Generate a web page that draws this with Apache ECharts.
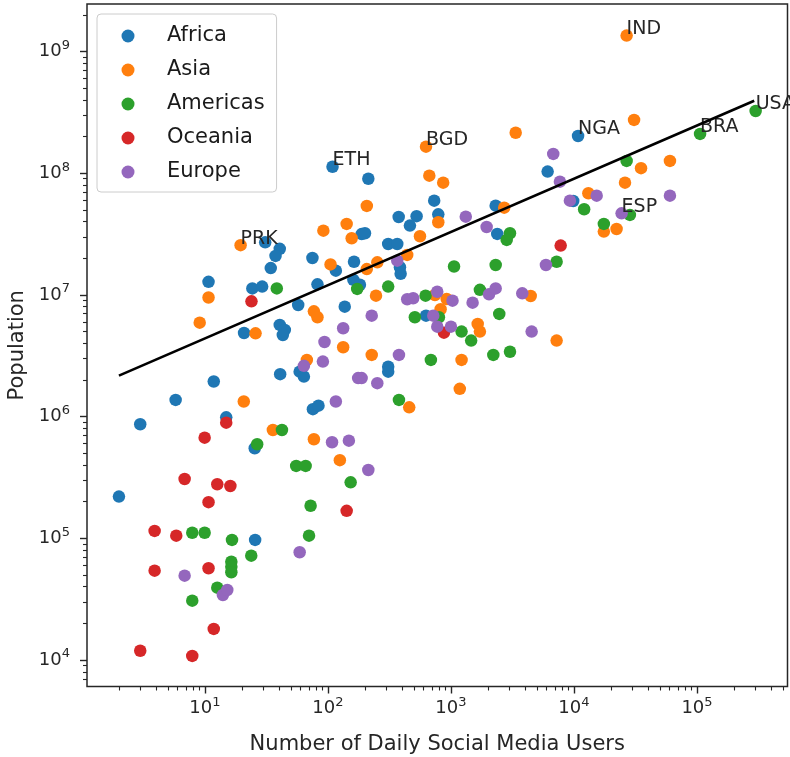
<!DOCTYPE html>
<html>
<head>
<meta charset="utf-8">
<script src="https://cdn.jsdelivr.net/npm/echarts@6/dist/echarts.min.js"></script>
<style>
  html, body { margin: 0; padding: 0; background: #fff; }
  #chart { width: 790px; height: 757px; }
</style>
</head>
<body>
<div id="chart"></div>
<script>
// [daily social media users, population, optional country code]
const africa = [
  [109, 1.13e8, 'ETH'], [213, 9.0e7], [10800, 2.02e8, 'NGA'], [6110, 1.03e8], [9860, 5.91e7],
  [731, 5.94e7], [376, 4.36e7], [526, 4.43e7], [464, 3.71e7], [789, 4.59e7],
  [2310, 5.41e7], [2380, 3.17e7], [188, 3.16e7], [200, 3.21e7], [309, 2.62e7],
  [366, 2.62e7], [30.9, 2.70e7], [40.6, 2.39e7], [37.5, 2.09e7], [74.8, 2.01e7],
  [34.3, 1.66e7], [10.7, 1.28e7], [24.3, 1.13e7], [29.2, 1.17e7], [82.2, 1.22e7],
  [57.3, 8.26e6], [116, 1.58e7], [163, 1.87e7], [385, 1.69e7], [390, 1.49e7],
  [161, 1.33e7], [182, 1.21e7], [137, 8.0e6], [40.6, 5.66e6], [44.6, 5.15e6],
  [43.0, 4.68e6], [20.8, 4.86e6], [58.9, 2.34e6], [63.8, 2.13e6], [40.9, 2.23e6],
  [11.8, 1.94e6], [5.78, 1.37e6], [75.5, 1.15e6], [83.8, 1.23e6], [2.98, 8.65e5],
  [14.9, 9.86e5], [25.4, 5.49e5], [2, 2.20e5], [25.6, 9.69e4], [627, 6.75e6],
  [309, 2.57e6], [309, 2.34e6]
];
const asia = [
  [26800, 1.35e9, 'IND'], [30800, 2.74e8], [3360, 2.15e8], [627, 1.65e8, 'BGD'], [667, 9.54e7],
  [865, 8.36e7], [207, 5.38e7], [142, 3.83e7], [789, 3.95e7], [2710, 5.21e7],
  [91.8, 3.37e7], [156, 2.92e7], [560, 3.03e7], [19.5, 2.56e7, 'PRK'], [10.7, 9.52e6],
  [9.07, 5.91e6], [25.8, 4.83e6], [76.9, 7.32e6], [82.2, 6.55e6], [105, 1.78e7],
  [207, 1.63e7], [252, 1.85e7], [441, 2.13e7], [246, 9.85e6], [67.4, 2.92e6],
  [133, 3.71e6], [227, 3.21e6], [458, 1.19e6], [20.7, 1.33e6], [35.7, 7.76e5],
  [76.9, 6.51e5], [125, 4.38e5], [741, 9.98e6], [923, 9.25e6], [824, 7.62e6],
  [1650, 5.77e6], [1720, 4.99e6], [4450, 9.79e6], [7230, 4.21e6], [1220, 2.92e6],
  [1180, 1.69e6], [35100, 1.10e8], [60300, 1.26e8], [26000, 8.36e7], [13100, 6.84e7],
  [22200, 3.48e7], [17500, 3.31e7]
];
const americas = [
  [3.00e5, 3.24e8, 'USA'], [1.06e5, 2.10e8, 'BRA'], [26800, 1.26e8], [12100, 5.05e7], [28500, 4.54e7],
  [17500, 3.83e7], [3020, 3.21e7], [2840, 2.83e7], [7230, 1.87e7], [2310, 1.76e7],
  [1060, 1.71e7], [1720, 1.10e7], [622, 9.85e6], [509, 6.55e6], [798, 6.55e6],
  [2470, 6.97e6], [1220, 4.99e6], [1460, 4.21e6], [2210, 3.21e6], [3020, 3.41e6],
  [687, 2.92e6], [378, 1.37e6], [309, 1.17e7], [173, 1.12e7], [38.4, 1.13e7],
  [42.3, 7.76e5], [26.6, 5.92e5], [55.2, 3.93e5], [65.9, 3.93e5], [72.3, 1.85e5],
  [153, 2.88e5], [70.2, 1.05e5], [7.89, 1.11e5], [9.95, 1.11e5], [16.6, 9.69e4],
  [23.8, 7.19e4], [16.4, 6.42e4], [16.4, 5.84e4], [16.4, 5.26e4], [12.6, 3.93e4],
  [7.89, 3.07e4]
];
const oceania = [
  [7800, 2.54e7], [877, 4.89e6], [23.9, 8.85e6], [14.9, 8.91e5], [9.95, 6.71e5],
  [142, 1.68e5], [6.84, 3.07e5], [12.6, 2.78e5], [16.1, 2.69e5], [10.7, 1.98e5],
  [3.90, 1.15e5], [5.85, 1.05e5], [3.90, 5.42e4], [10.7, 5.67e4], [11.8, 1.80e4],
  [2.98, 1.19e4], [7.89, 1.08e4]
];
const europe = [
  [6790, 1.44e8], [7690, 8.51e7], [15300, 6.53e7], [9270, 5.94e7], [60300, 6.53e7],
  [24400, 4.68e7, 'ESP'], [1320, 4.39e7], [1950, 3.61e7], [366, 1.91e7], [5920, 1.76e7],
  [441, 9.20e6], [493, 9.38e6], [774, 1.06e7], [1030, 8.96e6], [718, 6.75e6],
  [774, 5.48e6], [1000, 5.48e6], [1500, 8.63e6], [2040, 1.01e7], [2310, 1.13e7],
  [3800, 1.03e7], [4530, 4.99e6], [227, 6.75e6], [133, 5.32e6], [93.8, 4.10e6],
  [91.0, 2.83e6], [63.8, 2.61e6], [378, 3.21e6], [176, 2.07e6], [188, 2.07e6],
  [252, 1.88e6], [116, 1.33e6], [108, 6.15e5], [148, 6.34e5], [213, 3.64e5],
  [58.9, 7.67e4], [6.84, 4.93e4], [14.0, 3.42e4], [15.2, 3.76e4]
];

// Fitted power-law trend, evaluated at the ends of the user range
const trendUsers = [2, 2.92e5];
const trendPop = [2.17e6, 3.94e8];

const continents = ['Africa', 'Asia', 'Americas', 'Oceania', 'Europe'];
const groups = [africa, asia, americas, oceania, europe];
const palette = ['#1f77b4', '#ff7f0e', '#2ca02c', '#d62728', '#9467bd'];

const xMajorTicks = [10, 100, 1000, 10000, 100000];
const yMajorTicks = [1e4, 1e5, 1e6, 1e7, 1e8, 1e9];
const xRange = [1.1, 5.445e5];
const yRange = [6053, 2.455e9];

// minor log ticks at 2..9 times each power of ten
function minorTicks(lo, hi, range) {
  const out = [];
  for (let e = lo; e <= hi; e++) {
    for (let k = 2; k <= 9; k++) {
      const v = k * Math.pow(10, e);
      if (v > range[0] && v < range[1]) out.push(v);
    }
  }
  return out;
}
const xMinorTicks = minorTicks(0, 5, xRange);
const yMinorTicks = minorTicks(3, 9, yRange);

const FONT = 'DejaVu Sans';
const INK = '#262626';

const powLabel = v => '{b|10}{s|' + Math.round(Math.log10(v)) + '}';
const powRich = {
  b: { fontFamily: FONT, fontSize: 18, lineHeight: 20, color: INK },
  s: { fontFamily: FONT, fontSize: 13, lineHeight: 13, padding: [0, 0, 12, 0], color: INK }
};

function pointData(rows) {
  return rows.map(r => {
    const item = { value: [r[0], r[1]] };
    if (r[2]) {
      item.label = {
        show: true,
        formatter: r[2],
        position: ['50%', '50%'],
        align: 'left',
        verticalAlign: 'bottom',
        offset: [0, 3],
        fontFamily: FONT,
        fontSize: 19,
        color: INK
      };
    }
    return item;
  });
}

const series = groups.map((rows, i) => ({
  name: continents[i],
  type: 'scatter',
  xAxisIndex: 0,
  yAxisIndex: 0,
  symbol: 'circle',
  symbolSize: 12.5,
  itemStyle: { color: palette[i], opacity: 1 },
  label: { show: false },
  emphasis: { disabled: true },
  data: pointData(rows),
  z: 2
}));

series.push({
  name: 'trend',
  type: 'line',
  xAxisIndex: 0,
  yAxisIndex: 0,
  showSymbol: false,
  symbol: 'none',
  lineStyle: { color: '#000', width: 2.6 },
  data: trendUsers.map((u, i) => [u, trendPop[i]]),
  z: 3,
  silent: true
});

const baseAxis = (range) => ({
  type: 'log',
  logBase: 10,
  min: range[0],
  max: range[1],
  gridIndex: 0,
  splitLine: { show: false },
  axisLine: { show: false }
});

const option = {
  animation: false,
  backgroundColor: '#fff',
  grid: {
    left: 87, top: 4, width: 700.5, height: 682.5,
    show: true, borderColor: '#262626', borderWidth: 1.5,
    backgroundColor: 'transparent',
    containLabel: false,
    outerBoundsMode: 'none'
  },
  legend: {
    data: continents,
    orient: 'vertical',
    left: 97, top: 14,
    icon: 'circle',
    itemWidth: 26, itemHeight: 13, itemGap: 10,
    padding: [10, 12, 8, 24.5],
    backgroundColor: 'rgba(255,255,255,0.8)',
    borderColor: '#cccccc', borderWidth: 1, borderRadius: 4,
    textStyle: { fontFamily: FONT, fontSize: 21, lineHeight: 24, color: '#1a1a1a', padding: [0, 0, 0, 21] },
    selectedMode: false
  },
  xAxis: [
    Object.assign(baseAxis(xRange), {
      position: 'bottom',
      name: 'Number of Daily Social Media Users',
      nameLocation: 'middle',
      nameGap: 48,
      nameTextStyle: { fontFamily: FONT, fontSize: 21, color: INK },
      axisTick: { show: true, length: 7, inside: false, customValues: xMajorTicks, lineStyle: { color: INK, width: 1.4 } },
      axisLabel: { show: true, margin: 12, customValues: xMajorTicks, formatter: powLabel, rich: powRich }
    }),
    Object.assign(baseAxis(xRange), {
      position: 'bottom',
      axisTick: { show: true, length: 4, inside: false, customValues: xMinorTicks, lineStyle: { color: INK, width: 1.1 } },
      axisLabel: { show: false }
    })
  ],
  yAxis: [
    Object.assign(baseAxis(yRange), {
      position: 'left',
      name: 'Population',
      nameLocation: 'middle',
      nameGap: 57,
      nameTextStyle: { fontFamily: FONT, fontSize: 21, color: INK },
      axisTick: { show: true, length: 7, inside: false, customValues: yMajorTicks, lineStyle: { color: INK, width: 1.4 } },
      axisLabel: { show: true, margin: 17, customValues: yMajorTicks, formatter: powLabel, rich: powRich }
    }),
    Object.assign(baseAxis(yRange), {
      position: 'left',
      axisTick: { show: true, length: 4, inside: false, customValues: yMinorTicks, lineStyle: { color: INK, width: 1.1 } },
      axisLabel: { show: false }
    })
  ],
  series: series
};

const chart = echarts.init(document.getElementById('chart'), null, { renderer: 'canvas' });
chart.setOption(option);
</script>
</body>
</html>
